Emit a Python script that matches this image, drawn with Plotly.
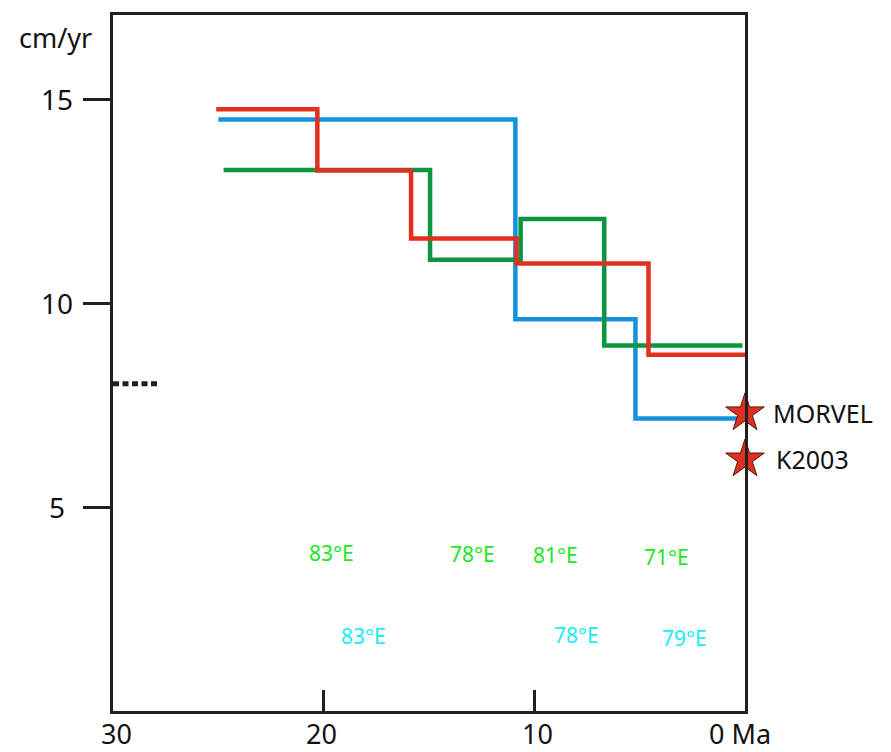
import plotly.graph_objects as go

# ---- data (Ma, cm/yr) ----
blue_x = [25.0, 10.9, 5.2, 0.0]
blue_y = [14.50, 9.60, 7.17, 7.17]

green_x = [24.75, 14.95, 10.65, 6.68, 0.12]
green_y = [13.26, 11.06, 12.06, 8.96, 8.96]

red_x = [25.1, 20.3, 15.85, 10.85, 4.58, 0.0]
red_y = [14.75, 13.25, 11.58, 10.97, 8.73, 8.73]

dotted_x = [30.0, 27.9]
dotted_y = [8.02, 8.02]

star_x = [0.0, 0.0]
star_y = [7.30, 6.17]
star_labels = ["MORVEL", "K2003"]

green_lbl_x = [19.65, 12.92, 8.98, 3.71]
green_lbl_y = [3.88, 3.85, 3.83, 3.78]
green_lbl = ["83°E", "78°E", "81°E", "71°E"]

cyan_lbl_x = [18.10, 7.99, 2.89]
cyan_lbl_y = [1.83, 1.87, 1.80]
cyan_lbl = ["83°E", "78°E", "79°E"]

ytick_vals = [5, 10, 15]
xtick_vals = [20, 10]
xlabel_vals = [30, 20, 10, 0]
xlabel_text = ["30", "20", "10", "0 Ma"]

X_RANGE = [30, 0]
Y_RANGE = [0, 17.06]

FONT = "Noto Sans"
INK = "#231f20"


def px(v):
    """data x -> paper fraction (for labels outside the plot area)"""
    return (v - X_RANGE[0]) / (X_RANGE[1] - X_RANGE[0])


def py(v):
    return (v - Y_RANGE[0]) / (Y_RANGE[1] - Y_RANGE[0])


fig = go.Figure()
fig.add_trace(go.Scatter(x=dotted_x, y=dotted_y, mode="lines",
                         line=dict(color=INK, width=5, dash="6px,3.5px"),
                         showlegend=False, hoverinfo="skip"))
fig.add_trace(go.Scatter(x=blue_x, y=blue_y, mode="lines", line_shape="hv",
                         line=dict(color="#1592dd", width=4.5), showlegend=False))
fig.add_trace(go.Scatter(x=green_x, y=green_y, mode="lines", line_shape="hv",
                         line=dict(color="#0c9440", width=4.5), showlegend=False))
fig.add_trace(go.Scatter(x=red_x, y=red_y, mode="lines", line_shape="hv",
                         line=dict(color="#e1301f", width=4.5), showlegend=False))
fig.add_trace(go.Scatter(x=star_x, y=star_y, mode="markers", cliponaxis=False,
                         marker=dict(symbol="star", size=29, color="#e1301f",
                                     line=dict(color="#4a1a12", width=1)),
                         showlegend=False))

ann = []


def outside(x, y, text, size, xanchor="center"):
    ann.append(dict(xref="paper", yref="paper", x=px(x), y=py(y), text=text,
                    xanchor=xanchor, yanchor="middle", showarrow=False,
                    font=dict(family=FONT, size=size, color="#111")))


for t, yv, dx in zip(star_labels, star_y, [-1.25, -1.4]):
    outside(dx, yv, t, 25, xanchor="left")
for t, xv, yv in zip(green_lbl, green_lbl_x, green_lbl_y):
    ann.append(dict(x=xv, y=yv, text=t, showarrow=False,
                    xanchor="center", yanchor="middle",
                    font=dict(family=FONT, size=21, color="#1ee61e")))
for t, xv, yv in zip(cyan_lbl, cyan_lbl_x, cyan_lbl_y):
    ann.append(dict(x=xv, y=yv, text=t, showarrow=False,
                    xanchor="center", yanchor="middle",
                    font=dict(family=FONT, size=21, color="#19ecf0")))
for v in ytick_vals:
    outside(32.65, v, str(v), 28)
outside(32.75, 16.5, "cm/yr", 27)
xlabel_pos = [29.85, 20.1, 9.85, 0.24]
for xp, t in zip(xlabel_pos, xlabel_text):
    outside(xp, -0.55, t, 27)

fig.update_layout(
    width=891, height=752,
    margin=dict(l=113, r=146, t=13, b=41),
    paper_bgcolor="white", plot_bgcolor="white",
    annotations=ann,
    xaxis=dict(range=X_RANGE, showgrid=False, zeroline=False,
               showline=True, mirror=True, linecolor=INK, linewidth=3,
               tickvals=xtick_vals, ticks="inside", ticklen=21, tickwidth=3,
               tickcolor=INK, showticklabels=False),
    yaxis=dict(range=Y_RANGE, showgrid=False, zeroline=False,
               showline=True, mirror=True, linecolor=INK, linewidth=3,
               tickvals=ytick_vals, ticks="outside", ticklen=27, tickwidth=2.5,
               tickcolor=INK, showticklabels=False),
)

fig.write_html("out.html")
